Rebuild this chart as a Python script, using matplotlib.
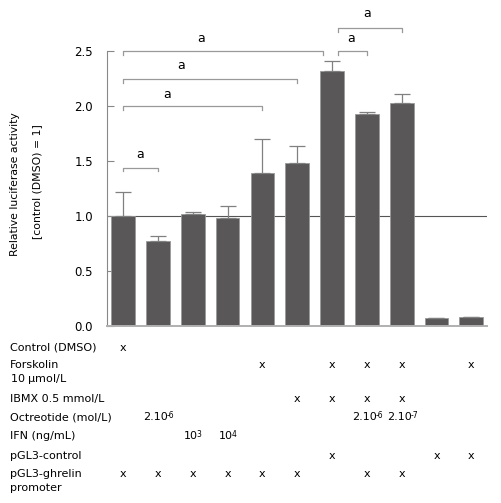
import matplotlib.pyplot as plt
import matplotlib.transforms as mtransforms

# Bar heights and upper error bar tops
values = [1.00, 0.775, 1.015, 0.985, 1.39, 1.48, 2.315, 1.93, 2.025, 0.07, 0.08]
err_tops = [1.22, 0.82, 1.04, 1.09, 1.70, 1.64, 2.41, 1.95, 2.11, 0.07, 0.08]
errors = [t - v for t, v in zip(err_tops, values)]

# Significance brackets: (x start, x end, height) and label positions
brackets = [(0, 1, 1.44), (0, 4, 2.0), (0, 5, 2.245), (0, 5.75, 2.5),
            (6.18, 7, 2.5), (6.18, 8, 2.71)]
bracket_labels = [(0.49, 1.56), (1.26, 2.105), (1.68, 2.37), (2.23, 2.61),
                  (6.56, 2.61), (7.0, 2.84)]

# Treatment table under the chart
row_labels = ["Control (DMSO)", "Forskolin", "IBMX 0.5 mmol/L",
              "Octreotide (mol/L)", "IFN (ng/mL)", "pGL3-control", "pGL3-ghrelin"]
row_extra = {1: "10 $\\mathregular{\\mu}$mol/L", 6: "promoter"}
row_ypix = [348, 365, 399, 417, 436, 456, 474]
row_marks = [
    {0: "x"},
    {4: "x", 6: "x", 7: "x", 8: "x", 10: "x"},
    {5: "x", 6: "x", 7: "x", 8: "x"},
    {1: ("2.10", "-6"), 7: ("2.10", "-6"), 8: ("2.10", "-7")},
    {2: ("10", "3"), 3: ("10", "4")},
    {6: "x", 9: "x", 10: "x"},
    {0: "x", 1: "x", 2: "x", 3: "x", 4: "x", 5: "x", 7: "x", 8: "x"},
]

W, H = 502, 503
fig = plt.figure(figsize=(W / 100, H / 100), dpi=100)
ax = fig.add_axes([107 / W, 1 - 326 / H, 380 / W, 275 / H])

bar_color = "#595757"
x = list(range(len(values)))
ax.bar(x, values, width=0.68, color=bar_color, edgecolor="#9a9a9a", linewidth=0.6, zorder=2)
ax.errorbar(x, values, yerr=[[0] * len(values), errors], fmt="none",
            ecolor="#808080", elinewidth=0.9, capsize=6, capthick=0.9, zorder=3)
ax.axhline(1.0, color="#555555", linewidth=0.8, zorder=1)

ax.set_xlim(-0.46, 10.45)
ax.set_ylim(0, 2.5)
ax.set_yticks([0, 0.5, 1.0, 1.5, 2.0, 2.5])
ax.set_yticklabels(["0.0", "0.5", "1.0", "1.5", "2.0", "2.5"])
ax.set_xticks(x)
ax.set_xticklabels([])
ax.tick_params(axis="x", direction="in", length=6, width=0.9, color="#222222")
ax.tick_params(axis="y", direction="in", length=5, width=0.8, color="#888888",
               labelsize=8.5, pad=10)
for s in ["top", "right"]:
    ax.spines[s].set_visible(False)
ax.spines["left"].set_color("#888888")
ax.spines["left"].set_linewidth(0.8)
ax.spines["bottom"].set_color("#b0b0b0")
ax.spines["bottom"].set_linewidth(1.4)

# brackets
for (x0, x1, y), (tx, ty) in zip(brackets, bracket_labels):
    d = 0.035
    ax.plot([x0, x0, x1, x1], [y - d, y, y, y - d], color="#999999",
            linewidth=0.9, clip_on=False)
    ax.text(tx, ty, "a", ha="center", va="center", fontsize=9, clip_on=False)

# y label (two lines)
fig.text(15 / W, 1 - 184 / H, "Relative luciferase activity", rotation=90,
         ha="center", va="center", fontsize=7.8)
fig.text(37 / W, 1 - 182 / H, "[control (DMSO) = 1]", rotation=90,
         ha="center", va="center", fontsize=7.8)

# table
trans = mtransforms.blended_transform_factory(ax.transData, fig.transFigure)
for r, (label, yp, marks) in enumerate(zip(row_labels, row_ypix, row_marks)):
    fig.text(10 / W, 1 - yp / H, label, ha="left", va="center", fontsize=8)
    if r in row_extra:
        fig.text(10 / W, 1 - (yp + 14) / H, row_extra[r], ha="left",
                 va="center", fontsize=8)
    for i, m in marks.items():
        if isinstance(m, tuple):
            base, sup = m
            shift = 0.43 if base == "2.10" else 0.26
            t = ax.text(i - shift, 1 - yp / H, base, transform=trans, ha="left",
                        va="center", fontsize=8)
            ax.annotate(sup, xy=(1, 1), xycoords=t, xytext=(-0.8, 1),
                        textcoords="offset points", ha="left", va="top",
                        fontsize=5.5)
        else:
            ax.text(i, 1 - yp / H, m, transform=trans, ha="center", va="center",
                    fontsize=8)

fig.savefig("out.png", dpi=100)
